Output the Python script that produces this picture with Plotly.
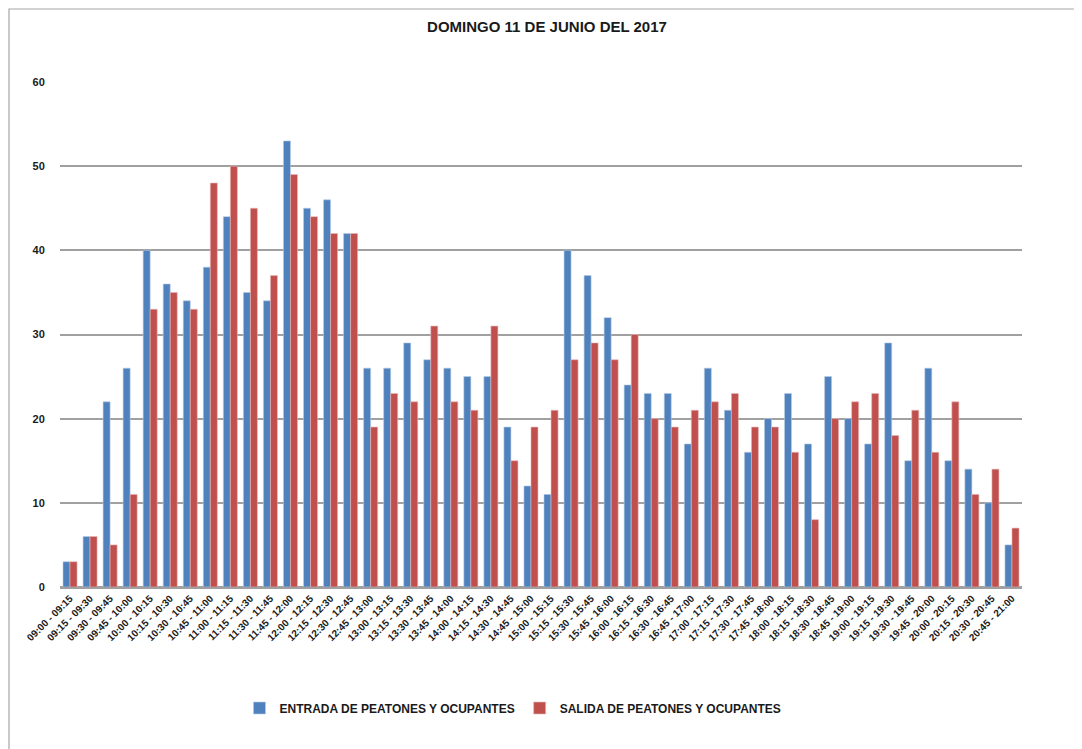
import plotly.graph_objects as go

categories = [
    "09:00 - 09:15", "09:15 - 09:30", "09:30 - 09:45", "09:45 - 10:00",
    "10:00 - 10:15", "10:15 - 10:30", "10:30 - 10:45", "10:45 - 11:00",
    "11:00 - 11:15", "11:15 - 11:30", "11:30 - 11:45", "11:45 - 12:00",
    "12:00 - 12:15", "12:15 - 12:30", "12:30 - 12:45", "12:45 - 13:00",
    "13:00 - 13:15", "13:15 - 13:30", "13:30 - 13:45", "13:45 - 14:00",
    "14:00 - 14:15", "14:15 - 14:30", "14:30 - 14:45", "14:45 - 15:00",
    "15:00 - 15:15", "15:15 - 15:30", "15:30 - 15:45", "15:45 - 16:00",
    "16:00 - 16:15", "16:15 - 16:30", "16:30 - 16:45", "16:45 - 17:00",
    "17:00 - 17:15", "17:15 - 17:30", "17:30 - 17:45", "17:45 - 18:00",
    "18:00 - 18:15", "18:15 - 18:30", "18:30 - 18:45", "18:45 - 19:00",
    "19:00 - 19:15", "19:15 - 19:30", "19:30 - 19:45", "19:45 - 20:00",
    "20:00 - 20:15", "20:15 - 20:30", "20:30 - 20:45", "20:45 - 21:00",
]

entrada = [3, 6, 22, 26, 40, 36, 34, 38, 44, 35, 34, 53,
           45, 46, 42, 26, 26, 29, 27, 26, 25, 25, 19, 12,
           11, 40, 37, 32, 24, 23, 23, 17, 26, 21, 16, 20,
           23, 17, 25, 20, 17, 29, 15, 26, 15, 14, 10, 5]

salida = [3, 6, 5, 11, 33, 35, 33, 48, 50, 45, 37, 49,
          44, 42, 42, 19, 23, 22, 31, 22, 21, 31, 15, 19,
          21, 27, 29, 27, 30, 20, 19, 21, 22, 23, 19, 19,
          16, 8, 20, 22, 23, 18, 21, 16, 22, 11, 14, 7]

y_ticks = [0, 10, 20, 30, 40, 50, 60]

name_in = "ENTRADA DE PEATONES Y OCUPANTES"
name_out = "SALIDA DE PEATONES Y OCUPANTES"

font_fam = "Liberation Sans Narrow, Arial Narrow, Liberation Sans, sans-serif"

fig = go.Figure()
fig.add_trace(go.Bar(x=categories, y=entrada, name=name_in,
                     marker=dict(color="#4F81BD", line=dict(color="#B9CDE5", width=0.6))))
fig.add_trace(go.Bar(x=categories, y=salida, name=name_out,
                     marker=dict(color="#C0504D", line=dict(color="#E6B9B8", width=0.6))))

# page has an 8px body margin, so figure origin is at (8, 8) on screen
W, H = 1074, 741
ml, mr, mt, mb = 52, 60, 74, 162

fig.update_layout(
    width=W, height=H,
    margin=dict(l=ml, r=mr, t=mt, b=mb, pad=0),
    paper_bgcolor="white", plot_bgcolor="white",
    barmode="group", bargap=0.3, bargroupgap=0.0,
    title=dict(text="<b>DOMINGO 11 DE JUNIO DEL 2017</b>", x=(539 - ml) / (W - ml - mr), xref="paper",
               xanchor="center", y=1 - 19 / H, yanchor="middle",
               font=dict(family=font_fam, size=15, color="#1a1a1a")),
    font=dict(family=font_fam, color="#1a1a1a"),
    showlegend=True,
    legend=dict(orientation="h", x=(505 - ml) / (W - ml - mr), xanchor="center",
                y=-(708 - 587) / (H - mt - mb), yanchor="middle",
                font=dict(family=font_fam, size=12, color="#1a1a1a", weight="bold"),
                itemwidth=30, traceorder="normal"),
    xaxis=dict(
        type="category", tickangle=-45, showgrid=False,
        tickfont=dict(family=font_fam, size=10, color="#1a1a1a", weight="bold"),
        showline=True, linecolor="#A0A0A0", linewidth=1.5,
        ticks="", ticklen=0,
    ),
    yaxis=dict(
        range=[0, 60], tickvals=y_ticks, showgrid=True, gridcolor="#A0A0A0", gridwidth=1.5,
        zeroline=True, zerolinecolor="#A0A0A0", zerolinewidth=1.5,
        tickfont=dict(family=font_fam, size=11, color="#1a1a1a", weight="bold"),
        ticks="outside", ticklen=12, tickcolor="rgba(0,0,0,0)",
        showline=False,
    ),
)

pw = W - ml - mr
ph = H - mt - mb
fig.add_shape(type="rect", xref="paper", yref="paper",
              x0=(1 - ml) / pw, x1=(W + 5 - ml) / pw,
              y0=-(H + 5 - mt - ph) / ph, y1=1 + (mt - 1) / ph,
              line=dict(color="#A6A6A6", width=1.2), fillcolor="rgba(0,0,0,0)", layer="below")

fig.write_html("out.html")
